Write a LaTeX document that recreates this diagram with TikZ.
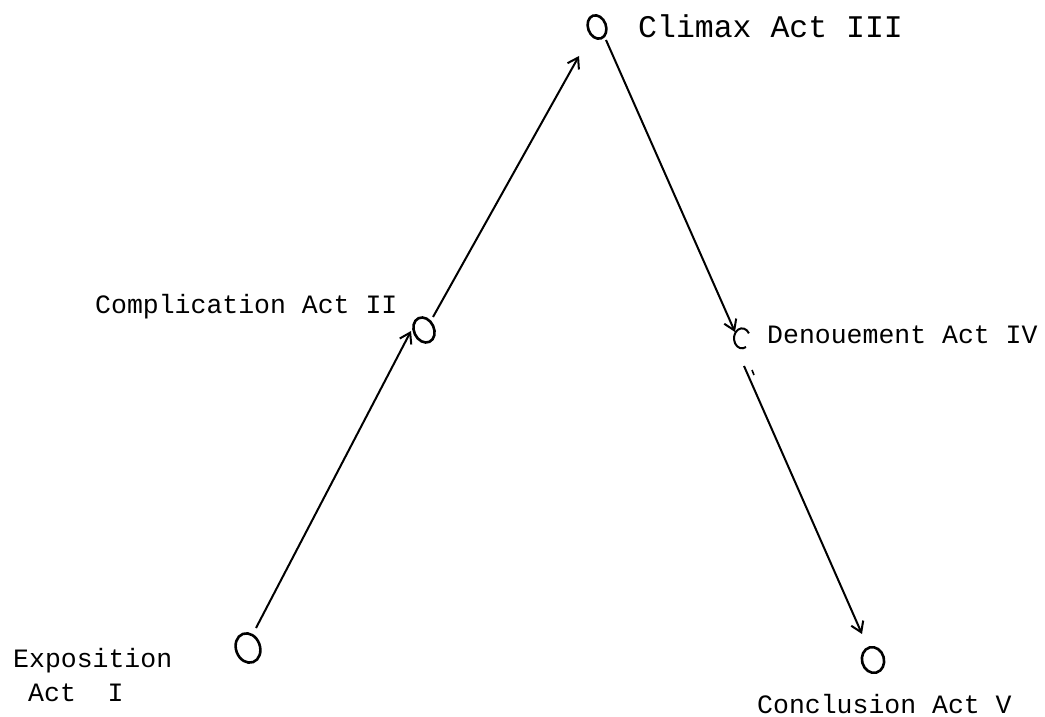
\documentclass[tikz,border=0pt]{standalone}
\usepackage{fontspec}
\setmainfont{Liberation Mono}
\usetikzlibrary{arrows.meta,calc}
\begin{document}
\begin{tikzpicture}[x=1pt,y=-1pt,
  lbl/.style={anchor=base west,inner sep=0pt,font=\fontsize{26.5}{30}\selectfont},
  ring/.style={line width=2.6pt},
  flow/.style={line width=2pt,-{Straight Barb[length=10pt,width=13pt,line width=2pt]}}]
\useasboundingbox (0,0) rectangle (1045,717);
% points
\draw[ring,rotate around={20:(248,648)}] (248,648) ellipse [x radius=12,y radius=15];
\coordinate (e) at (248,648);
\draw[ring,rotate around={25:(424,330)}] (424,330) ellipse [x radius=10,y radius=13];
\coordinate (c) at (424,330);
\draw[ring,rotate around={20:(597,27)}] (597,27) ellipse [x radius=9,y radius=12];
\coordinate (m) at (597,27);
\draw[line width=2pt] (746,347) arc[start angle=60,end angle=330,x radius=8,y radius=10];
\coordinate (d) at (741,352);
\draw[ring,rotate around={15:(873,660)}] (873,660) ellipse [x radius=11,y radius=13];
\coordinate (k) at (873,660);
% connectors
\draw[flow] ($(e)+(8,-20)$) -- ($(c)+(-13,1)$);
\draw[flow] ($(c)+(9,-13)$) -- ($(m)+(-18,29)$);
\draw[flow] ($(m)+(9,13)$) -- ($(d)+(-6,-20)$);
\draw[flow] ($(d)+(3,14)$) -- ($(k)+(-11,-26)$);
\draw[line width=1.6pt] (752,370) -- (754,375);
% labels
\node[lbl] (te) at (13,667) {Exposition};
\node[lbl] (te2) at (28,701) {Act\ \ I};
\node[lbl,font=\fontsize{31.5}{36}\selectfont] (tm) at (638,38) {Climax Act III};
\node[lbl] (tc) at (95,313) {Complication Act II};
\node[lbl] (td) at (767,343) {Denouement Act IV};
\node[lbl] (tk) at (757,713) {Conclusion Act V};
\end{tikzpicture}
\end{document}
